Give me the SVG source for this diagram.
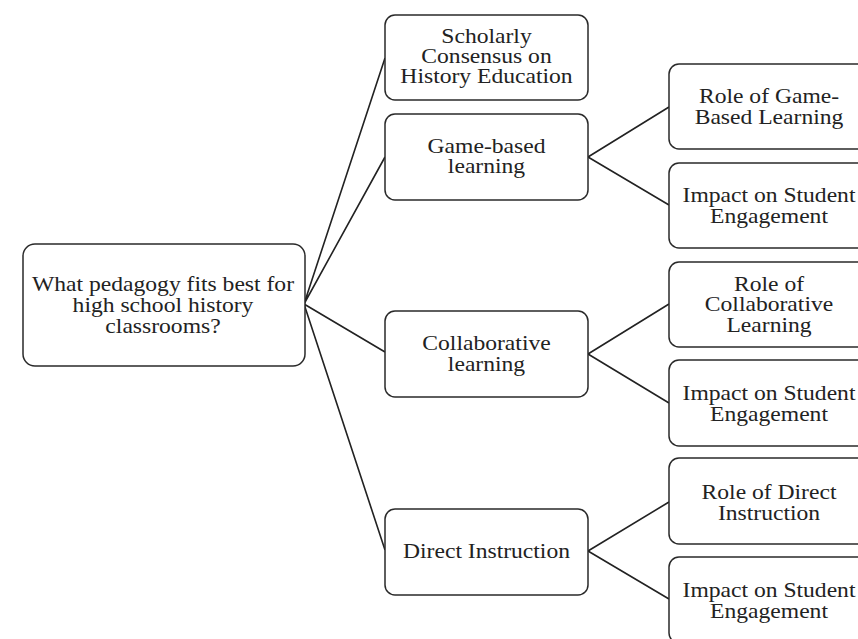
<svg xmlns="http://www.w3.org/2000/svg" width="858" height="639" viewBox="0 0 858 639">
<style>
.box{fill:#fff;stroke:#2a2a2a;stroke-width:1.5}
.t{font-family:"Liberation Serif","Times New Roman",serif;font-size:20px;fill:#222;text-anchor:middle}
.c{stroke:#222;stroke-width:1.6;fill:none}
</style>
<rect width="858" height="639" fill="#fff"/>
<g id="connectors">
<path class="c" d="M304 304 L385 58 M304 304 L385 157 M304 304 L385 352 M304 304 L385 550"/>
<path class="c" d="M588 157 L669 107 M588 157 L669 205"/>
<path class="c" d="M588 354 L669 304 M588 354 L669 403"/>
<path class="c" d="M588 551 L669 502 M588 551 L669 599"/>
</g>
<g id="root">
<rect class="box" x="23" y="244" width="282" height="122" rx="12"/>
<g transform="translate(163 0) scale(1.18 1)"><text class="t"><tspan x="0" y="291">What pedagogy fits best for</tspan><tspan x="0" y="312">high school history</tspan><tspan x="0" y="333">classrooms?</tspan></text></g>
</g>
<g id="scholarly">
<rect class="box" x="385" y="15" width="203" height="85" rx="10"/>
<g transform="translate(486.5 0) scale(1.18 1)"><text class="t"><tspan x="0" y="43">Scholarly</tspan><tspan x="0" y="63">Consensus on</tspan><tspan x="0" y="83">History Education</tspan></text></g>
</g>
<g id="game">
<rect class="box" x="385" y="114" width="203" height="86" rx="10"/>
<g transform="translate(486.5 0) scale(1.18 1)"><text class="t"><tspan x="0" y="153">Game-based</tspan><tspan x="0" y="173">learning</tspan></text></g>
</g>
<g id="collab">
<rect class="box" x="385" y="311" width="203" height="86" rx="10"/>
<g transform="translate(486.5 0) scale(1.18 1)"><text class="t"><tspan x="0" y="350">Collaborative</tspan><tspan x="0" y="371">learning</tspan></text></g>
</g>
<g id="direct">
<rect class="box" x="385" y="509" width="203" height="86" rx="10"/>
<g transform="translate(486.5 0) scale(1.18 1)"><text class="t"><tspan x="0" y="558">Direct Instruction</tspan></text></g>
</g>
<g id="game-role">
<rect class="box" x="669" y="64" width="202" height="85" rx="10"/>
<g transform="translate(769 0) scale(1.18 1)"><text class="t"><tspan x="0" y="103">Role of Game-</tspan><tspan x="0" y="124">Based Learning</tspan></text></g>
</g>
<g id="game-impact">
<rect class="box" x="669" y="163" width="202" height="85" rx="10"/>
<g transform="translate(769 0) scale(1.18 1)"><text class="t"><tspan x="0" y="202">Impact on Student</tspan><tspan x="0" y="223">Engagement</tspan></text></g>
</g>
<g id="collab-role">
<rect class="box" x="669" y="262" width="202" height="85" rx="10"/>
<g transform="translate(769 0) scale(1.18 1)"><text class="t"><tspan x="0" y="291">Role of</tspan><tspan x="0" y="311">Collaborative</tspan><tspan x="0" y="332">Learning</tspan></text></g>
</g>
<g id="collab-impact">
<rect class="box" x="669" y="360" width="202" height="86" rx="10"/>
<g transform="translate(769 0) scale(1.18 1)"><text class="t"><tspan x="0" y="400">Impact on Student</tspan><tspan x="0" y="421">Engagement</tspan></text></g>
</g>
<g id="direct-role">
<rect class="box" x="669" y="458" width="202" height="86" rx="10"/>
<g transform="translate(769 0) scale(1.18 1)"><text class="t"><tspan x="0" y="499">Role of Direct</tspan><tspan x="0" y="520">Instruction</tspan></text></g>
</g>
<g id="direct-impact">
<rect class="box" x="669" y="557" width="202" height="86" rx="10"/>
<g transform="translate(769 0) scale(1.18 1)"><text class="t"><tspan x="0" y="597">Impact on Student</tspan><tspan x="0" y="618">Engagement</tspan></text></g>
</g>
</svg>
